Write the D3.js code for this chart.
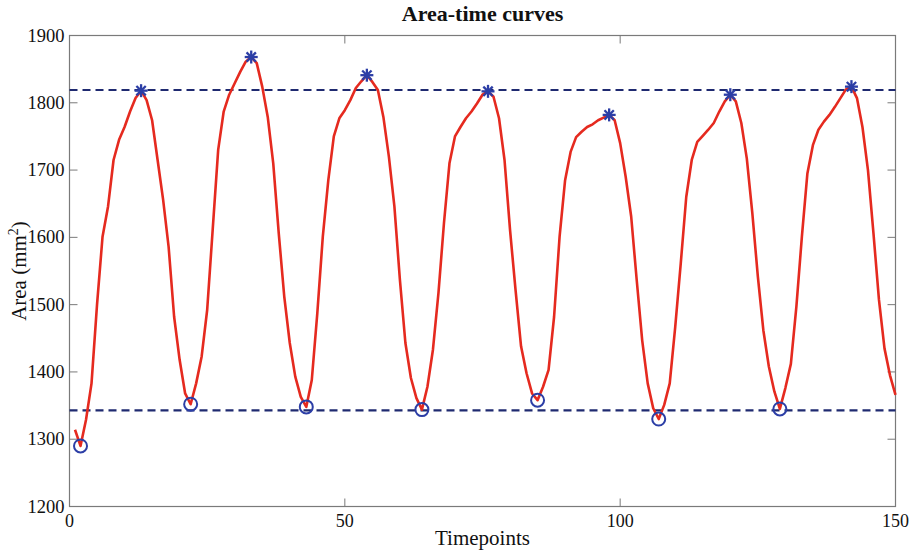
<!DOCTYPE html>
<html><head><meta charset="utf-8">
<script src="https://cdn.jsdelivr.net/npm/d3@7"></script>
<style>body{margin:0;background:#fff}svg{display:block}text{font-family:"Liberation Serif","Times New Roman",serif}</style>
</head><body>
<script>
const timepoints = d3.range(1, 151);
const area = [
1314,1290,1329,1383,1500,1601,1646,1715,1745,1764,1787,1807,1818,1804,1774,1715,1656,1586,1482,1418,
1368,1352,1383,1423,1492,1611,1730,1787,1812,1829,1846,1861,1868,1859,1824,1779,1710,1606,1512,1443,
1393,1363,1348,1388,1487,1601,1685,1750,1777,1789,1804,1822,1832,1841,1831,1819,1779,1720,1646,1537,
1443,1391,1361,1344,1378,1433,1517,1621,1710,1750,1764,1777,1787,1799,1812,1817,1809,1777,1715,1611,
1522,1438,1398,1368,1358,1378,1403,1482,1601,1685,1727,1749,1757,1764,1768,1774,1778,1782,1774,1740,
1690,1631,1537,1447,1383,1346,1330,1351,1383,1467,1561,1660,1715,1742,1751,1760,1770,1787,1802,1812,
1802,1770,1717,1636,1542,1462,1408,1371,1345,1376,1412,1497,1601,1695,1737,1760,1772,1782,1794,1807,
1820,1824,1807,1764,1700,1606,1507,1435,1395,1366];
const peakTimes = [13, 33, 54, 76, 98, 120, 142];
const troughTimes = [2, 22, 43, 64, 85, 107, 129];
const refLevels = [1819, 1343];
const xTicks = [0, 50, 100, 150];
const yTicks = [1200, 1300, 1400, 1500, 1600, 1700, 1800, 1900];
const titleText = "Area-time curves";
const xLabel = "Timepoints";

const W = 914, H = 552;
const m = {l: 69.5, r: 18.5, t: 35.5, b: 45.5};
const svg = d3.select("body").append("svg").attr("width", W).attr("height", H);
const x = d3.scaleLinear().domain([0, 150]).range([m.l, W - m.r]);
const y = d3.scaleLinear().domain([1200, 1900]).range([H - m.b, m.t]);
const axisCol = "#7a7a7a";
const tickLen = 8;

// frame
svg.append("rect").attr("x", x(0)).attr("y", y(1900)).attr("width", x(150) - x(0)).attr("height", y(1200) - y(1900))
  .attr("fill", "none").attr("stroke", axisCol).attr("stroke-width", 1.2);

// ticks (inside, all sides)
const tg = svg.append("g").attr("stroke", axisCol).attr("stroke-width", 1);
xTicks.forEach(t => {
  tg.append("line").attr("x1", x(t)).attr("x2", x(t)).attr("y1", y(1200)).attr("y2", y(1200) - tickLen);
  tg.append("line").attr("x1", x(t)).attr("x2", x(t)).attr("y1", y(1900)).attr("y2", y(1900) + tickLen);
});
yTicks.forEach(v => {
  tg.append("line").attr("x1", x(0)).attr("x2", x(0) + tickLen).attr("y1", y(v)).attr("y2", y(v));
  tg.append("line").attr("x1", x(150)).attr("x2", x(150) - tickLen).attr("y1", y(v)).attr("y2", y(v));
});

// tick labels
svg.append("g").selectAll("text").data(xTicks).join("text")
  .attr("x", d => x(d)).attr("y", y(1200) + 20).attr("text-anchor", "middle")
  .attr("font-size", 18).attr("fill", "#111").text(d => d);
svg.append("g").selectAll("text").data(yTicks).join("text")
  .attr("x", x(0) - 5).attr("y", d => y(d) + 6).attr("text-anchor", "end")
  .attr("font-size", 18.5).attr("fill", "#111").text(d => d);

// reference dashed lines
svg.append("g").selectAll("line").data(refLevels).join("line")
  .attr("x1", x(0)).attr("x2", x(150)).attr("y1", d => y(d)).attr("y2", d => y(d))
  .attr("stroke", "#1f2a70").attr("stroke-width", 2.2).attr("stroke-dasharray", "8,5");

// curve
const pts = timepoints.map((t, i) => [t, area[i]]);
svg.append("path").datum(pts)
  .attr("d", d3.line().x(d => x(d[0])).y(d => y(d[1])))
  .attr("fill", "none").attr("stroke", "#e52a1f").attr("stroke-width", 2.6).attr("stroke-linejoin", "round");

// markers
const mk = "#2c3ea6";
troughTimes.forEach(t => {
  svg.append("circle").attr("cx", x(t)).attr("cy", y(area[t - 1])).attr("r", 6.5)
    .attr("fill", "none").attr("stroke", mk).attr("stroke-width", 2);
});
const starR = 6.5;
peakTimes.forEach(t => {
  const cx = x(t), cy = y(area[t - 1]);
  const g = svg.append("g").attr("stroke", mk).attr("stroke-width", 2.3);
  g.append("line").attr("x1", cx - starR).attr("x2", cx + starR).attr("y1", cy).attr("y2", cy);
  g.append("line").attr("x1", cx).attr("x2", cx).attr("y1", cy - starR).attr("y2", cy + starR);
  const d = starR * 0.72;
  g.append("line").attr("x1", cx - d).attr("x2", cx + d).attr("y1", cy - d).attr("y2", cy + d);
  g.append("line").attr("x1", cx - d).attr("x2", cx + d).attr("y1", cy + d).attr("y2", cy - d);
});

// title and labels
svg.append("text").attr("x", (x(0) + x(150)) / 2).attr("y", 21).attr("text-anchor", "middle")
  .attr("font-size", 22).attr("font-weight", "bold").attr("fill", "#111").text(titleText);
svg.append("text").attr("x", (x(0) + x(150)) / 2).attr("y", 545).attr("text-anchor", "middle")
  .attr("font-size", 21).attr("fill", "#111").text(xLabel);
const yl = svg.append("text").attr("transform", `translate(26,${(y(1200) + y(1900)) / 2}) rotate(-90)`)
  .attr("text-anchor", "middle").attr("font-size", 21).attr("fill", "#111");
yl.append("tspan").text("Area (mm");
yl.append("tspan").attr("font-size", 14).attr("dy", -8).text("2");
yl.append("tspan").attr("dy", 8).text(")");
</script>
</body></html>
